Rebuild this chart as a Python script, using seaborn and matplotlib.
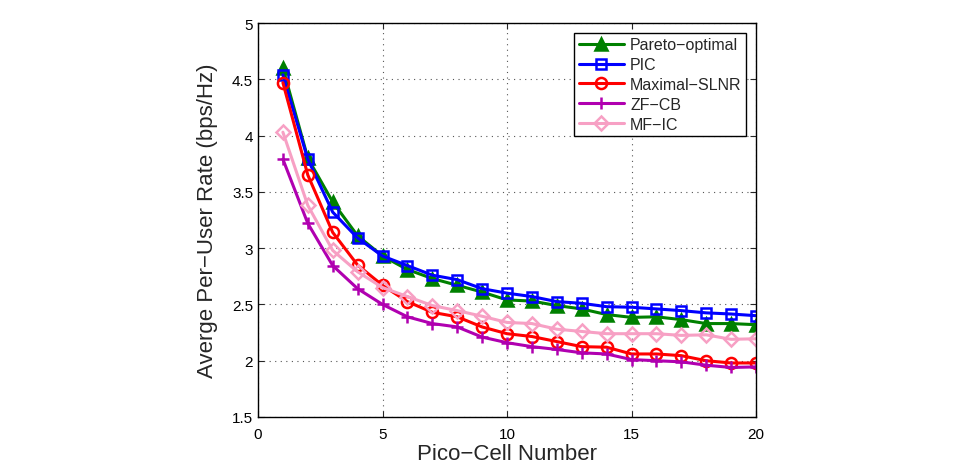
import numpy as np
import pandas as pd
import matplotlib
matplotlib.use("Agg")
import matplotlib.pyplot as plt
import seaborn as sns
from matplotlib.ticker import FuncFormatter

cells = list(range(1, 21))
pareto = [4.60, 3.80, 3.41, 3.11, 2.93, 2.81, 2.73, 2.67, 2.61, 2.54, 2.53, 2.49, 2.46, 2.41, 2.385, 2.39, 2.365, 2.33, 2.33, 2.32]
pic = [4.54, 3.79, 3.32, 3.09, 2.93, 2.845, 2.76, 2.72, 2.64, 2.60, 2.57, 2.525, 2.51, 2.48, 2.475, 2.46, 2.445, 2.425, 2.415, 2.40]
slnr = [4.47, 3.65, 3.14, 2.85, 2.67, 2.525, 2.43, 2.39, 2.30, 2.24, 2.215, 2.17, 2.125, 2.12, 2.06, 2.06, 2.045, 2.00, 1.98, 1.98]
zfcb = [3.79, 3.22, 2.845, 2.64, 2.50, 2.39, 2.33, 2.30, 2.21, 2.16, 2.125, 2.10, 2.07, 2.06, 2.01, 2.00, 1.99, 1.96, 1.94, 1.945]
mfic = [4.03, 3.38, 2.98, 2.79, 2.65, 2.57, 2.49, 2.445, 2.395, 2.34, 2.33, 2.28, 2.26, 2.24, 2.24, 2.24, 2.225, 2.23, 2.19, 2.195]

names = ["Pareto\u2212optimal", "PIC", "Maximal\u2212SLNR", "ZF\u2212CB", "MF\u2212IC"]
series = [pareto, pic, slnr, zfcb, mfic]
colors = ["#008000", "#0000FF", "#FF0000", "#B000B0", "#F7A0C4"]
markers = ["^", "s", "o", "+", "D"]
msizes = [8, 7, 8, 9, 7]

sns.set_style("ticks")
plt.rcParams['font.family'] = ['Liberation Sans', 'DejaVu Sans']

fig = plt.figure(figsize=(9.68, 4.64), dpi=100)
ax = fig.add_axes([258/968, 1-418/464, (756-258)/968, (418-24)/464])

for name, vals, c, m, ms in zip(names, series, colors, markers, msizes):
    df = pd.DataFrame({"x": cells, "y": vals})
    filled = (m == "^")
    sns.lineplot(data=df, x="x", y="y", ax=ax, color=c, lw=2.2, linestyle="-",
                 marker=m, markersize=ms, markeredgewidth=1.8,
                 markerfacecolor=c if filled else "none", markeredgecolor=c, label=name)

for line in ax.get_lines():
    line.set_linestyle("-")

ax.set_xlim(0, 20)
ax.set_ylim(1.5, 5)
ax.set_xticks([0, 5, 10, 15, 20])
ax.set_yticks(np.arange(1.5, 5.01, 0.5))
ax.yaxis.set_major_formatter(FuncFormatter(lambda v, p: f"{v:g}"))
ax.grid(True, linestyle=(0, (1, 4)), color="#555555", linewidth=0.8)
ax.tick_params(direction="in", length=4, labelsize=11, top=True, right=True, width=0.8,
               labelcolor="black")
ax.tick_params(axis="x", pad=7)
for s in ax.spines.values():
    s.set_linewidth(1.0)
    s.set_color("black")
ax.set_xlabel("Pico\u2212Cell Number", fontsize=16, labelpad=2)
ax.set_ylabel("Averge Per\u2212User Rate (bps/Hz)", fontsize=16, labelpad=10)

leg = ax.legend(loc="upper right", fontsize=11.5, frameon=True, fancybox=False,
                edgecolor="black", framealpha=1, borderpad=0.3, labelspacing=0.3,
                handlelength=2.8, handletextpad=0.4, borderaxespad=0.6)
leg.get_frame().set_linewidth(1.0)
for h in leg.get_lines():
    h.set_linestyle("-")

fig.savefig("out.png", dpi=100)
